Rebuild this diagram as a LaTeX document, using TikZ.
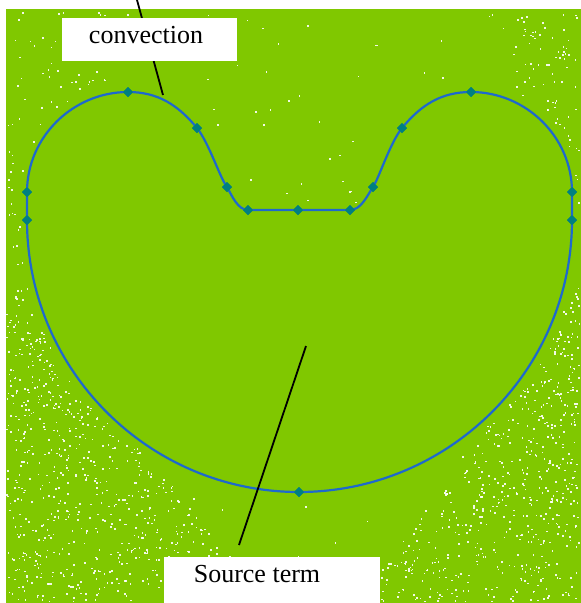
\documentclass[tikz,border=0pt]{standalone}
\usepackage{fontspec}
\setmainfont{Liberation Serif}
\usetikzlibrary{shapes.geometric}
\definecolor{bggreen}{RGB}{128,200,0}
\definecolor{curveblue}{RGB}{30,105,205}
\definecolor{marker}{RGB}{0,128,128}
\newcommand\spkdot[2]{%
  \pgfmathparse{((((#1-128)/100)^2+((#2-192)/100)^2<1.12) || (((#1-471)/100)^2+((#2-192)/100)^2<1.12) || ((#2>206) && (((#1-299)/275)^2+((#2-220)/275)^2<1.03))) ? 1 : 0}%
  \ifdim\pgfmathresult pt<0.5pt
    \fill[speck] (#1,#2) rectangle ++(1.6,1.6);
  \fi}
\begin{document}
\begin{tikzpicture}[x=1pt,y=-1pt,
  mk/.style={diamond,fill=marker,draw=none,minimum width=10pt,minimum height=10pt,inner sep=0pt},
  whitebox/.style={fill=white,draw=none,inner sep=0pt},
  lbl/.style={font=\fontsize{26}{30}\selectfont,inner sep=0pt,anchor=base},
  pointer/.style={draw=black,line width=1.8pt},
  speck/.style={fill=white,opacity=0.9},
  outline/.style={draw=curveblue,line width=2.2pt,line join=round}]
\useasboundingbox (0,0) rectangle (581,603);
\fill[white] (0,0) rectangle (581,603);
\fill[bggreen] (6,9) rectangle (581,603);
% speckles
\pgfmathsetseed{4242}
\foreach \i in {1,...,600}{
  \pgfmathsetmacro\u{rnd}\pgfmathsetmacro\v{rnd}
  \pgfmathsetmacro\s{(\u+\v>1) ? 1-\u : \u}
  \pgfmathsetmacro\t{(\u+\v>1) ? 1-\v : \v}
  \pgfmathsetmacro\px{6+260*\s}\pgfmathsetmacro\py{601-320*\t}
  \spkdot{\px}{\py}
}
\foreach \i in {1,...,500}{
  \pgfmathsetmacro\u{rnd}\pgfmathsetmacro\v{rnd}
  \pgfmathsetmacro\s{(\u+\v>1) ? 1-\u : \u}
  \pgfmathsetmacro\t{(\u+\v>1) ? 1-\v : \v}
  \pgfmathsetmacro\px{579-220*\s}\pgfmathsetmacro\py{601-310*\t}
  \spkdot{\px}{\py}
}
\foreach \i in {1,...,260}{
  \pgfmathsetmacro\px{6+110*rnd}\pgfmathsetmacro\py{12+420*rnd}
  \spkdot{\px}{\py}
}
\foreach \i in {1,...,220}{
  \pgfmathsetmacro\px{500+79*rnd}\pgfmathsetmacro\py{12+400*rnd}
  \spkdot{\px}{\py}
}
\foreach \i in {1,...,260}{
  \pgfmathsetmacro\px{6+573*rnd}\pgfmathsetmacro\py{12+588*rnd}
  \spkdot{\px}{\py}
}
% markers
\node[mk] (m1) at (27,220) {};
\node[mk] (m2) at (27,192) {};
\node[mk] (m3) at (128,92) {};
\node[mk] (m4) at (197,128) {};
\node[mk] (m5) at (227,187) {};
\node[mk] (m6) at (248,210) {};
\node[mk] (m7) at (298,210) {};
\node[mk] (m8) at (350,210) {};
\node[mk] (m9) at (373,187) {};
\node[mk] (m10) at (402,128) {};
\node[mk] (m11) at (471,92) {};
\node[mk] (m12) at (572,192) {};
\node[mk] (m13) at (572,220) {};
\node[mk] (m14) at (299,492) {};
% outline curve
\draw[outline] (m1.center) -- (m2.center)
  .. controls (27,137) and (73,92) .. (m3.center)
  .. controls (158,92) and (178,105) .. (m4.center)
  .. controls (209,143) and (220,178) .. (m5.center)
  .. controls (232,196) and (238,210) .. (m6.center)
  -- (m7.center) -- (m8.center)
  .. controls (361,210) and (367,196) .. (m9.center)
  .. controls (379,178) and (390,143) .. (m10.center)
  .. controls (421,105) and (441,92) .. (m11.center)
  .. controls (526,92) and (572,137) .. (m12.center)
  -- (m13.center)
  .. controls (572,370) and (449,492) .. (m14.center)
  .. controls (149,492) and (27,370) .. (m1.center) -- cycle;
% redraw markers on top
\foreach \n in {m1,m2,m3,m4,m5,m6,m7,m8,m9,m10,m11,m12,m13,m14}{
  \fill[marker] ([yshift=5pt]\n.center) -- ([xshift=5pt]\n.center) -- ([yshift=-5pt]\n.center) -- ([xshift=-5pt]\n.center) -- cycle;
}
% pointer lines
\coordinate (convA) at (137,0);
\coordinate (convB) at (163,95);
\coordinate (srcA) at (306,346);
\coordinate (srcB) at (239,545);
\draw[pointer] (convA) -- (convB);
\draw[pointer] (srcA) -- (srcB);
% label boxes
\node[whitebox,minimum width=175pt,minimum height=43pt] (convbox) at (149.5,39.5) {};
\node[lbl] (conv) at (146,43) {convection};
\node[whitebox,minimum width=216pt,minimum height=46pt] (srcbox) at (272,580) {};
\node[lbl] (src) at (257,582) {Source term};
\end{tikzpicture}
\end{document}
